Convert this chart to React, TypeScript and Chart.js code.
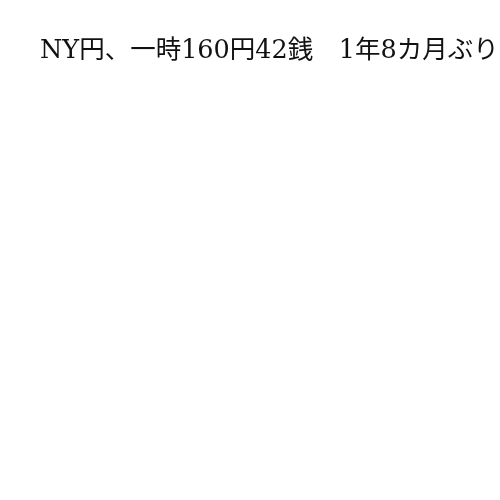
import React, { useEffect, useRef } from 'react';
import { Chart, registerables } from 'chart.js';

Chart.register(...registerables);

// the reference shows only the heading; the plot itself holds no data
const titleText = 'NY円、一時160円42銭　1年8カ月ぶり';
const labels: string[] = [];
const rateValues: number[] = [];

export default function App() {
  const chartRef = useRef<HTMLCanvasElement>(null);
  const chartInstance = useRef<Chart | null>(null);

  useEffect(() => {
    if (!chartRef.current) return;
    if (chartInstance.current) chartInstance.current.destroy();

    chartInstance.current = new Chart(chartRef.current, {
      type: 'line',
      data: {
        labels,
        datasets: [
          {
            label: 'ドル円',
            data: rateValues,
            borderColor: '#1f4e9c',
            pointRadius: 0,
          },
        ],
      },
      options: {
        responsive: false,
        animation: false,
        layout: { padding: { left: 40, top: 0, right: 0, bottom: 0 } },
        plugins: {
          legend: { display: false },
          tooltip: { enabled: false },
          title: {
            display: true,
            text: titleText,
            align: 'start',
            color: '#111',
            padding: { top: 36, bottom: 10 },
            font: {
              family: "'DejaVu Serif', 'Noto Sans CJK JP', serif",
              size: 25.5,
              weight: 'normal',
            },
          },
        },
        scales: {
          x: { display: false },
          y: { display: false },
        },
      },
    });

    return () => {
      if (chartInstance.current) {
        chartInstance.current.destroy();
        chartInstance.current = null;
      }
    };
  }, []);

  return (
    <div style={{ position: 'fixed', left: 0, top: 0, width: 500, height: 500, overflow: 'hidden', background: '#fff' }}>
      <canvas ref={chartRef} width={760} height={500} style={{ width: 760, height: 500 }} />
    </div>
  );
}
